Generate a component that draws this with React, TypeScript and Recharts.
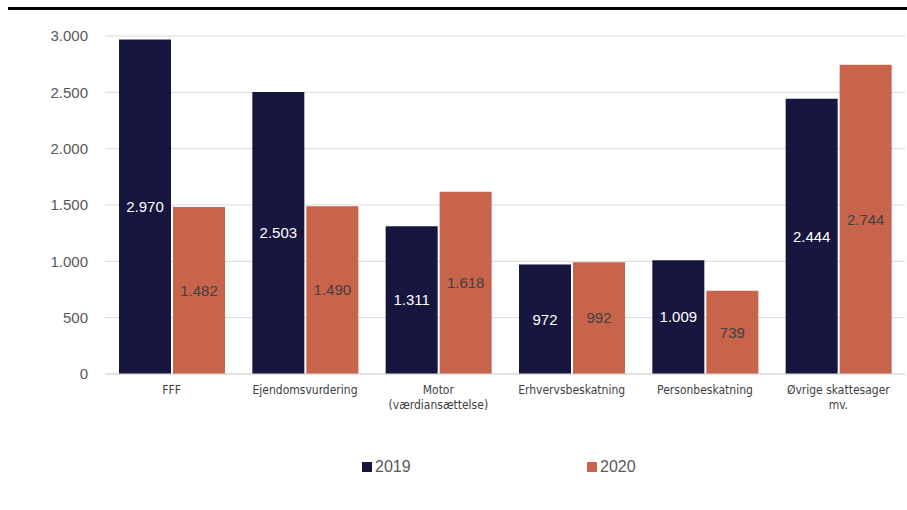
import React from "react";
import { BarChart, Bar, XAxis, YAxis, CartesianGrid, Legend, LabelList } from "recharts";

const categories = [
  "FFF",
  "Ejendomsvurdering",
  "Motor\n(værdiansættelse)",
  "Erhvervsbeskatning",
  "Personbeskatning",
  "Øvrige skattesager\nmv.",
];
const values2019 = [2970, 2503, 1311, 972, 1009, 2444];
const values2020 = [1482, 1490, 1618, 992, 739, 2744];
const yTicks = [0, 500, 1000, 1500, 2000, 2500, 3000];

const NAVY = "#16163f";
const ORANGE = "#c8644b";

const data = categories.map((name, i) => ({
  name,
  y2019: values2019[i],
  y2020: values2020[i],
}));

// dansk tusindtalsseparator
const fmt = (v: number) => String(v).replace(/\B(?=(\d{3})+(?!\d))/g, ".");

const CategoryTick = (props: any) => {
  const { x, y, payload } = props;
  const lines = String(payload.value).split("\n");
  return (
    <text
      x={x}
      y={y}
      textAnchor="middle"
      fill="#404040"
      fontSize={12}
      fontFamily="'Liberation Sans Narrow', 'DejaVu Sans Condensed', sans-serif"
    >
      {lines.map((l, i) => (
        <tspan key={i} x={x} dy={i === 0 ? 12 : 15}>
          {l}
        </tspan>
      ))}
    </text>
  );
};

const LegendContent = () => (
  <div style={{ position: "relative", height: 20, fontFamily: "'Liberation Sans', sans-serif", fontSize: 16, color: "#595959" }}>
    {[
      { label: "2019", color: NAVY, left: 362 },
      { label: "2020", color: ORANGE, left: 587 },
    ].map((it) => (
      <div key={it.label} style={{ position: "absolute", left: it.left, top: 0, display: "flex", alignItems: "center" }}>
        <span style={{ display: "inline-block", width: 10, height: 10, background: it.color, marginRight: 3 }} />
        <span>{it.label}</span>
      </div>
    ))}
  </div>
);

export default function App() {
  return (
    <div style={{ position: "absolute", left: 0, top: 0, width: 907, height: 510, background: "#fff" }}>
      <div style={{ position: "absolute", left: 8, top: 7, width: 899, height: 3, background: "#000" }} />
      <BarChart
        width={907}
        height={510}
        data={data}
        margin={{ top: 36, right: 2, left: 0, bottom: 56 }}
        barGap={2}
        barSize={52}
      >
        <CartesianGrid vertical={false} stroke="#d9d9d9" />
        <XAxis
          dataKey="name"
          tick={<CategoryTick />}
          tickLine={false}
          axisLine={{ stroke: "#d9d9d9" }}
          interval={0}
          height={60}
        />
        <YAxis
          width={105}
          domain={[0, 3000]}
          ticks={yTicks}
          tickFormatter={fmt}
          tickLine={false}
          axisLine={false}
          tickMargin={11}
          tick={{ fill: "#595959", fontSize: 15, fontFamily: "'Liberation Sans', sans-serif" }}
        />
        <Legend verticalAlign="bottom" content={<LegendContent />} wrapperStyle={{ left: 0, width: 907, bottom: 32 }} />
        <Bar dataKey="y2019" name="2019" fill={NAVY} isAnimationActive={false}>
          <LabelList
            dataKey="y2019"
            position="center"
            formatter={(v: any) => fmt(Number(v))}
            fill="#ffffff"
            fontSize={15}
            fontFamily="'Liberation Sans', sans-serif"
          />
        </Bar>
        <Bar dataKey="y2020" name="2020" fill={ORANGE} isAnimationActive={false}>
          <LabelList
            dataKey="y2020"
            position="center"
            formatter={(v: any) => fmt(Number(v))}
            fill="#404040"
            fontSize={15}
            fontFamily="'Liberation Sans', sans-serif"
          />
        </Bar>
      </BarChart>
    </div>
  );
}
